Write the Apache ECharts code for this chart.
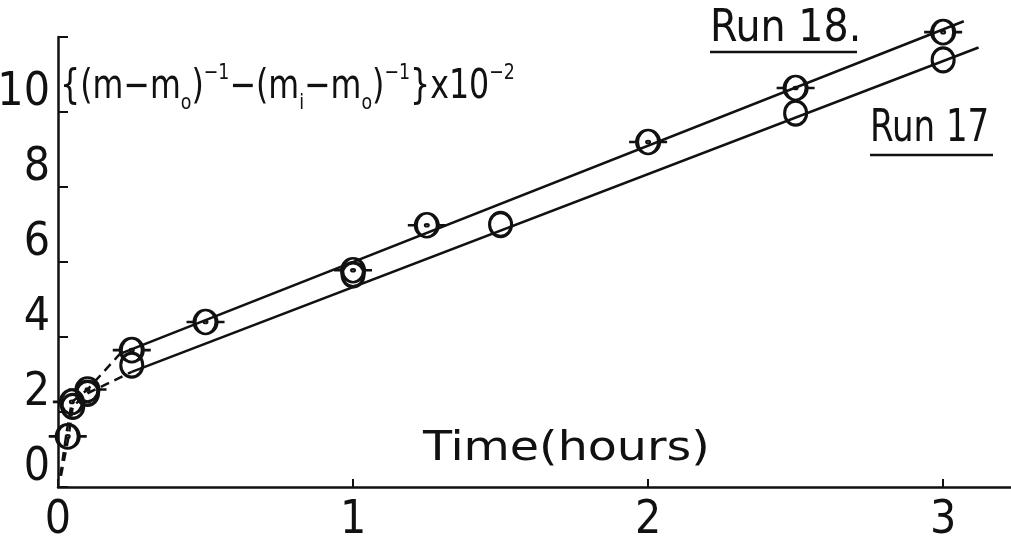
<!DOCTYPE html>
<html>
<head>
<meta charset="utf-8">
<title>Run 17 / Run 18</title>
<script src="https://cdn.jsdelivr.net/npm/echarts@6/dist/echarts.min.js"></script>
<style>
	html, body { margin: 0; padding: 0; background: #fff; }
	#chart { width: 1011px; height: 543px; }
</style>
</head>
<body>
<div id="chart"></div>
<script>
'use strict';

// 刻度
var xTicks = [0, 1, 2, 3];
var yTicks = [0, 2, 4, 6, 8, 10, 12];

// 测点 [时间(h), 值]
var run18Points = [[0.033, 1.35], [0.047, 2.27], [0.1, 2.6], [0.25, 3.65], [0.5, 4.4], [1.0, 5.78], [1.25, 6.98], [2.0, 9.2], [2.5, 10.64], [3.0, 12.13]];
var run17Points = [[0.05, 2.15], [0.1, 2.5], [0.25, 3.25], [1.0, 5.66], [1.5, 7.0], [2.5, 9.97], [3.0, 11.39]];

// 直线段 (两端)
var run18Line = [[0.21, 3.55], [3.07, 12.42]];
var run17Line = [[0.25, 3.07], [3.12, 11.72]];

// 起始虚线
var run18Dash = [[0.008, 0.3], [0.03, 1.5], [0.047, 2.27], [0.1, 2.6], [0.21, 3.55]];
var run17Dash = [[0.01, 0.3], [0.035, 1.3], [0.05, 2.15], [0.1, 2.5], [0.25, 3.07]];

var FONT = "'DejaVu Sans Condensed', 'DejaVu Sans', sans-serif";
var INK = '#111';

var sym18 = 'path://M8,12A11,12,0,1,1,30,12A11,12,0,1,1,8,12ZM0,12L8,12M30,12L38,12M18,12A1,1,0,1,1,20,12A1,1,0,1,1,18,12';
var sym17 = 'path://M0,12A11,12,0,1,1,22,12A11,12,0,1,1,0,12Z';

function lineSeries(data, dashed) {
	return {
		type: 'line',
		data: data,
		showSymbol: false,
		symbol: 'none',
		clip: false,
		silent: true,
		lineStyle: { color: INK, width: 2.5, type: dashed ? [9, 6] : 'solid' }
	};
}

function pointSeries(data, symbol, size) {
	return {
		type: 'scatter',
		data: data,
		symbol: symbol,
		symbolSize: size,
		clip: false,
		silent: true,
		itemStyle: { color: 'none', borderColor: INK, borderWidth: 3.2, opacity: 1 }
	};
}

var chart = echarts.init(document.getElementById('chart'));

chart.setOption({
	animation: false,
	backgroundColor: '#fff',
	grid: { left: 58, right: 0, top: 37, bottom: 56, containLabel: false, outerBoundsMode: 'none' },
	xAxis: {
		type: 'value',
		min: 0,
		max: 3.23,
		interval: 1,
		splitLine: { show: false },
		axisLine: { lineStyle: { color: INK, width: 2.5 } },
		axisTick: { inside: true, length: 8, customValues: xTicks, lineStyle: { color: INK, width: 2 } },
		axisLabel: {
			customValues: xTicks,
			margin: 10,
			color: INK,
			fontFamily: FONT,
			fontSize: 46,
			lineHeight: 48
		}
	},
	yAxis: {
		type: 'value',
		min: 0,
		max: 12,
		interval: 2,
		splitLine: { show: false },
		axisLine: { lineStyle: { color: INK, width: 2.5 } },
		axisTick: { inside: true, length: 10, customValues: yTicks, lineStyle: { color: INK, width: 2 } },
		axisLabel: {
			customValues: yTicks.slice(0, 6),
			margin: 8,
			color: INK,
			fontFamily: FONT,
			fontSize: 46,
			lineHeight: 38,
			verticalAlign: 'bottom'
		}
	},
	graphic: [
		{
			type: 'text',
			left: 60,
			top: 62,
			scaleX: 0.88,
			silent: true,
			style: {
				text: '{m|{(m−m}{sub|o}{m|)}{sup|−1}{m|−(m}{sub|i}{m|−m}{sub|o}{m|)}{sup|−1}}{m|x10}{sup|−2}',
				fill: INK,
				font: '40px ' + FONT,
				lineHeight: 52,
				rich: {
					m: { fontSize: 40, fontFamily: FONT, lineHeight: 52, verticalAlign: 'middle' },
					sup: { fontSize: 22, fontFamily: FONT, lineHeight: 52, verticalAlign: 'top' },
					sub: { fontSize: 22, fontFamily: FONT, lineHeight: 52, verticalAlign: 'bottom' }
				}
			}
		},
		{
			type: 'text',
			x: 423,
			y: 430,
			scaleX: 1.32,
			silent: true,
			style: { text: 'Time(hours)', fill: INK, font: '40px ' + FONT }
		},
		{
			type: 'text',
			left: 710,
			top: 8,
			silent: true,
			style: { text: 'Run 18.', fill: INK, font: '44px ' + FONT }
		},
		{
			type: 'line',
			silent: true,
			shape: { x1: 710, y1: 52, x2: 857, y2: 52 },
			style: { stroke: INK, lineWidth: 2.5 }
		},
		{
			type: 'text',
			x: 870,
			y: 108,
			scaleX: 0.86,
			silent: true,
			style: { text: 'Run 17', fill: INK, font: '44px ' + FONT }
		},
		{
			type: 'line',
			silent: true,
			shape: { x1: 870, y1: 155, x2: 993, y2: 155 },
			style: { stroke: INK, lineWidth: 2.5 }
		}
	],
	series: [
		lineSeries(run18Line, false),
		lineSeries(run17Line, false),
		lineSeries(run18Dash, true),
		lineSeries(run17Dash, true),
		pointSeries(run18Points, sym18, [38, 24]),
		pointSeries(run17Points, sym17, [22, 24])
	]
});
</script>
</body>
</html>
